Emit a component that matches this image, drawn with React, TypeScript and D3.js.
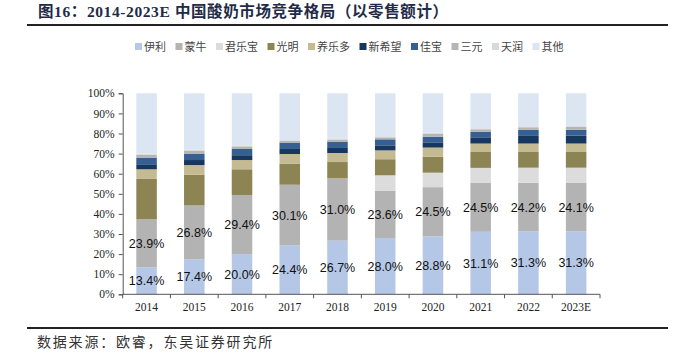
import React, { useEffect, useRef } from "react";
import * as d3 from "d3";

// 2014-2023E 中国酸奶市场份额（以零售额计，%）
const years = ["2014", "2015", "2016", "2017", "2018", "2019", "2020", "2021", "2022", "2023E"];
const brands = ["伊利", "蒙牛", "君乐宝", "光明", "养乐多", "新希望", "佳宝", "三元", "天润", "其他"];
const colors = ["#b4c7e7", "#b3b3b3", "#dcdcdc", "#8c8452", "#c4bb92", "#17375e", "#376092", "#b5b5b5", "#d9d9d9", "#dce6f2"];

const yili = [13.4, 17.4, 20.0, 24.4, 26.7, 28.0, 28.8, 31.1, 31.3, 31.3];
const mengniu = [23.9, 26.8, 29.4, 30.1, 31.0, 23.6, 24.5, 24.5, 24.2, 24.1];
const junlebao = [0, 0, 0, 0, 0, 7.6, 7.2, 7.3, 7.5, 7.6];
const guangming = [20.1, 15.3, 12.8, 10.5, 8.1, 8.0, 8.0, 7.9, 7.8, 7.8];
const yakult = [4.8, 4.8, 4.6, 4.8, 4.5, 4.4, 4.5, 4.2, 4.2, 4.2];
const xinxiwang = [2.5, 2.5, 2.4, 2.5, 2.5, 2.5, 2.6, 3.1, 3.8, 3.9];
const jiabao = [3.3, 3.2, 3.1, 3.0, 3.0, 3.0, 2.8, 2.8, 3.0, 2.9];
const sanyuan = [1.5, 1.5, 1.3, 1.0, 1.0, 1.0, 1.4, 1.2, 1.3, 1.5];
const tianrun = [0.4, 0.4, 0.4, 0.4, 0.5, 0.5, 0.5, 0.5, 0.5, 0.5];
const others = [30.1, 28.1, 26.0, 23.3, 22.7, 21.4, 19.7, 17.4, 16.4, 16.2];

const series = [yili, mengniu, junlebao, guangming, yakult, xinxiwang, jiabao, sanyuan, tianrun, others];
const yTicks = [0, 10, 20, 30, 40, 50, 60, 70, 80, 90, 100];

const WIDTH = 683;
const HEIGHT = 354;
const SERIF = "'Liberation Serif', 'Times New Roman', serif";
const CJK = "'Noto Sans CJK SC', sans-serif";

export default function App() {
	const ref = useRef<SVGSVGElement>(null);

	useEffect(() => {
		const svg = d3.select(ref.current);
		svg.selectAll("*").remove();

		// title
		svg.append("text")
			.attr("x", 38)
			.attr("y", 17)
			.attr("fill", "#1f2b47")
			.attr("font-weight", "bold")
			.attr("font-size", 15.5)
			.attr("letter-spacing", 0.6)
			.attr("font-family", `'Liberation Serif', ${CJK}`)
			.text("图16：2014-2023E 中国酸奶市场竞争格局（以零售额计）");

		svg.append("line")
			.attr("x1", 27).attr("x2", 668)
			.attr("y1", 25).attr("y2", 25)
			.attr("stroke", "#222").attr("stroke-width", 2);

		// legend
		const legend = svg.append("g").attr("transform", "translate(135,47)");
		let lx = 0;
		brands.forEach((b, i) => {
			const g = legend.append("g").attr("transform", `translate(${lx},0)`);
			g.append("rect")
				.attr("x", 0).attr("y", -4)
				.attr("width", 7).attr("height", 7)
				.attr("fill", colors[i]);
			g.append("text")
				.attr("x", 9)
				.attr("y", 4)
				.attr("font-size", 11)
				.attr("font-family", CJK)
				.attr("fill", "#444")
				.text(b);
			lx += 9 + b.length * 11 + 9.5;
		});

		// chart
		const x = d3.scaleBand().domain(years).range([122.7, 600]).paddingInner(0.57).paddingOuter(0.285);
		const y = d3.scaleLinear().domain([0, 100]).range([294.3, 93.3]);

		const table = years.map((yr, i) => {
			const row: any = { year: yr };
			brands.forEach((b, j) => (row[b] = series[j][i]));
			return row;
		});
		const stacked = d3.stack().keys(brands)(table);

		const layers = svg.append("g")
			.selectAll("g")
			.data(stacked)
			.enter()
			.append("g")
			.attr("fill", (d, i) => colors[i]);

		layers.selectAll("rect")
			.data((d) => d)
			.enter()
			.append("rect")
			.attr("x", (d: any) => x(d.data.year)!)
			.attr("width", x.bandwidth())
			.attr("y", (d) => y(d[1]))
			.attr("height", (d) => y(d[0]) - y(d[1]));

		// value labels for 伊利 and 蒙牛
		stacked.slice(0, 2).forEach((layer) => {
			svg.append("g")
				.selectAll("text")
				.data(layer)
				.enter()
				.append("text")
				.attr("x", (d: any) => x(d.data.year)! + x.bandwidth() / 2)
				.attr("y", (d) => y((d[0] + d[1]) / 2) + 4.5)
				.attr("text-anchor", "middle")
				.attr("font-size", 12.5)
				.attr("font-family", "'Liberation Sans', Arial, sans-serif")
				.attr("fill", "#111")
				.text((d) => (d[1] - d[0]).toFixed(1) + "%");
		});

		// y axis
		const yAxis = svg.append("g")
			.attr("transform", "translate(122.7,0)")
			.call(d3.axisLeft(y).tickValues(yTicks).tickSize(4).tickFormat((d) => d + "%"));
		yAxis.select(".domain").attr("stroke", "#555");
		yAxis.selectAll(".tick line").attr("stroke", "#555");
		yAxis.selectAll("text")
			.attr("font-size", 11.5)
			.attr("font-family", SERIF)
			.attr("fill", "#222")
			.attr("x", -8);

		// x axis
		const xAxis = svg.append("g")
			.attr("transform", "translate(0,294.3)")
			.call(d3.axisBottom(x).tickSize(0));
		xAxis.select(".domain").attr("stroke", "#555").attr("d", "M122.7,0H600");
		xAxis.selectAll("text")
			.attr("font-size", 11.5)
			.attr("font-family", SERIF)
			.attr("fill", "#222")
			.attr("dy", "1.2em");
		const step = x.step();
		xAxis.selectAll(".sep")
			.data(d3.range(years.length + 1))
			.enter()
			.append("line")
			.attr("x1", (i) => 122.7 + i * step)
			.attr("x2", (i) => 122.7 + i * step)
			.attr("y1", 0).attr("y2", 4)
			.attr("stroke", "#555");

		// footer
		svg.append("line")
			.attr("x1", 27).attr("x2", 668)
			.attr("y1", 328).attr("y2", 328)
			.attr("stroke", "#222").attr("stroke-width", 2);
		svg.append("text")
			.attr("x", 37)
			.attr("y", 347)
			.attr("font-size", 14)
			.attr("letter-spacing", 1.8)
			.attr("font-family", CJK)
			.attr("fill", "#333")
			.text("数据来源：欧睿，东吴证券研究所");
	}, []);

	return (
		<svg
			ref={ref}
			width={WIDTH}
			height={HEIGHT}
			style={{ position: "absolute", left: 0, top: 0, background: "#fff" }}
		></svg>
	);
}
